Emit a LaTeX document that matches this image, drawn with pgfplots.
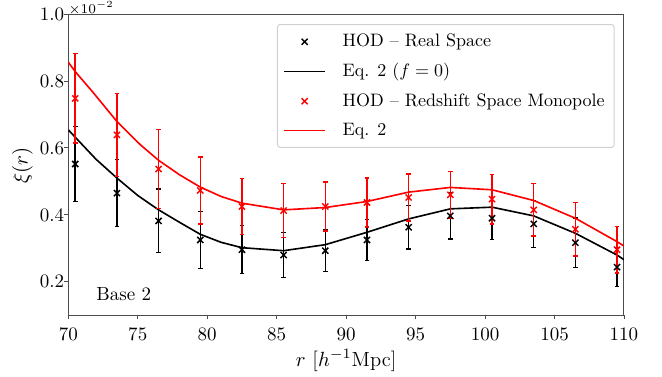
\documentclass[border=0pt]{standalone}
\usepackage{fix-cm}
\usepackage{pgfplots}
\pgfplotsset{compat=1.18}
\usepackage{pgfplotstable}

\pgfplotstableread{
x y e
70.5 0.552 0.112
73.5 0.465 0.100
76.5 0.382 0.095
79.5 0.325 0.086
82.5 0.296 0.072
85.5 0.280 0.068
88.5 0.293 0.062
91.5 0.325 0.062
94.5 0.363 0.065
97.5 0.397 0.069
100.5 0.390 0.063
103.5 0.373 0.070
106.5 0.317 0.074
109.5 0.244 0.058
}\realdata

\pgfplotstableread{
x y e
70.5 0.748 0.133
73.5 0.639 0.124
76.5 0.537 0.117
79.5 0.473 0.100
82.5 0.425 0.083
85.5 0.413 0.080
88.5 0.425 0.073
91.5 0.437 0.073
94.5 0.452 0.070
97.5 0.460 0.069
100.5 0.447 0.074
103.5 0.415 0.078
106.5 0.357 0.080
109.5 0.296 0.070
}\rsddata

\pgfplotstableread{
x y
70 0.654
70.5 0.632
72 0.566
73.5 0.510
75 0.458
76.5 0.415
78 0.378
79.5 0.342
81 0.318
82.5 0.302
85.5 0.293
88.5 0.311
91.5 0.348
94.5 0.388
97.5 0.418
100.5 0.423
103.5 0.397
106.5 0.345
109.5 0.280
110 0.266
}\realmodel

\pgfplotstableread{
x y
70 0.856
70.5 0.828
71.8 0.765
73.5 0.679
75.2 0.609
76.5 0.563
78 0.520
79.5 0.483
81 0.455
82.5 0.435
85.5 0.415
88.5 0.422
91.5 0.440
94.5 0.468
97.5 0.482
100.5 0.475
103.5 0.443
106.5 0.390
109.5 0.320
110 0.307
}\rsdmodel

\begin{document}
\begin{tikzpicture}
\begin{axis}[
  at={(0pt,0pt)}, anchor=south west,
  scale only axis, width=308.72pt, height=167.39pt,
  xmin=70, xmax=110, ymin=0.1, ymax=1.0,
  xtick={70,75,...,110},
  ytick={0.2,0.4,0.6,0.8,1.0},
  scaled y ticks=false,
  tick align=outside, xtick pos=left, ytick pos=left,
  major tick length=2.2pt,
  tick style={black!70, line width=0.5pt},
  axis line style={line width=0.55pt, black!70},
  ticklabel style={font=\fontsize{10.56}{12.7}\selectfont},
  xticklabel style={yshift=-1.4pt},
  yticklabel style={xshift=3.4pt, /pgf/number format/.cd, fixed, fixed zerofill, precision=1},
  legend cell align=left,
  legend image code/.code={\draw[mark repeat=2,mark phase=2,#1] plot coordinates {(0pt,0pt) (11.4pt,0pt) (22.8pt,0pt)};},
  legend style={at={(0.98326,0.96681)}, anchor=north east,
    draw=black!18, line width=0.55pt, rounded corners=1.5pt,
    font=\fontsize{10}{12}\selectfont,
    inner xsep=3.3pt, inner ysep=3.3pt, row sep=3.75pt, column sep=7.2pt},
]
\addlegendimage{only marks, mark=x, mark size=2.4pt, black, line width=0.8pt}
\addlegendentry{HOD -- Real Space}
\addlegendimage{black, line width=0.9pt}
\addlegendentry{Eq. 2 ($f=0$)}
\addlegendimage{only marks, mark=x, mark size=2.4pt, red, line width=0.8pt}
\addlegendentry{HOD -- Redshift Space Monopole}
\addlegendimage{red, line width=0.9pt}
\addlegendentry{Eq. 2}
\addplot[forget plot, only marks, mark=x, mark size=2.4pt, black, line width=0.8pt,
  error bars/.cd, y dir=both, y explicit,
  error bar style={line width=0.85pt, black},
  error mark options={rotate=90, mark size=1.3pt, line width=0.7pt, black}]
  table[x=x, y=y, y error=e]{\realdata};
\addplot[forget plot, black, line width=0.9pt, no marks] table[x=x, y=y]{\realmodel};
\addplot[forget plot, only marks, mark=x, mark size=2.4pt, red, line width=0.8pt,
  error bars/.cd, y dir=both, y explicit,
  error bar style={line width=0.85pt, red},
  error mark options={rotate=90, mark size=1.3pt, line width=0.7pt, red}]
  table[x=x, y=y, y error=e]{\rsddata};
\addplot[forget plot, red, line width=0.9pt, no marks] table[x=x, y=y]{\rsdmodel};
\node[anchor=base west, inner sep=0pt, font=\fontsize{10.56}{12.7}\selectfont] at (rel axis cs:0.05,0.05) {Base 2};
\end{axis}
\node[rotate=90, anchor=center, font=\fontsize{11.6}{14}\selectfont] at (-25.44pt,83.2pt) {$\xi(r)$};
\node[anchor=base, font=\fontsize{11.4}{14}\selectfont] at (154.36pt,-28.3pt) {$r$ [$h^{-1}$Mpc]};
\node[anchor=base west, inner sep=0pt, font=\fontsize{7.5}{9}\selectfont] at (0pt,167.6pt) {$\times10^{-2}$};
\pgfresetboundingbox
\path[use as bounding box] (-37.94pt,-33.72pt) rectangle (329.83pt,175.17pt);
\end{tikzpicture}
\end{document}
